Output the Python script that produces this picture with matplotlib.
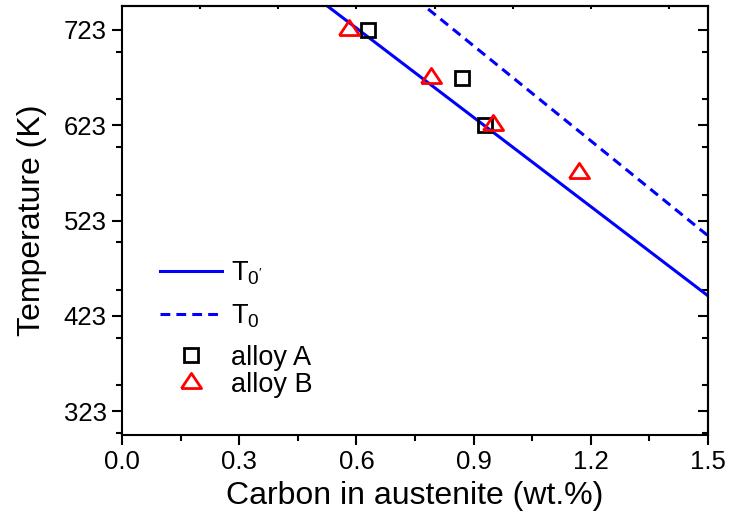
import numpy as np
import matplotlib
matplotlib.use('Agg')
import matplotlib.pyplot as plt
from matplotlib.ticker import MultipleLocator

plt.rcParams['font.family'] = ['Liberation Sans', 'DejaVu Sans']
plt.rcParams['mathtext.default'] = 'regular'

# T0' and T0 lines (carbon wt.%, temperature K)
t0p_c = [0.5, 1.5]
t0p_t = [756, 444]
t0_c = [0.75, 1.5]
t0_t = [756, 507]

# measured points
alloyA_c = [0.63, 0.87, 0.93]
alloyA_t = [723, 673, 623]
alloyB_c = [0.58, 0.79, 0.95, 1.17]
alloyB_t = [723, 673, 623, 573]

xticks = [0.0, 0.3, 0.6, 0.9, 1.2, 1.5]
yticks = [323, 423, 523, 623, 723]

fig = plt.figure(figsize=(7.32, 5.32), dpi=100)
ax = fig.add_axes([122/732, 97/532, 586/732, 429/532])

l1, = ax.plot(t0p_c, t0p_t, color='#0000ff', lw=2.2, label="T$_{0'}$")
l2, = ax.plot(t0_c, t0_t, color='#0000ff', lw=2.2, ls=(0, (3.2, 2.0)), label='T$_0$')

tri = [(-1, -0.5), (1, -0.5), (0, 1), (-1, -0.5)]
m1, = ax.plot(alloyA_c, alloyA_t, ls='none', marker='s', ms=10, mfc='none',
              mec='black', mew=2, label='alloy A')
m2, = ax.plot(alloyB_c, alloyB_t, ls='none', marker=tri, ms=14.5, mfc='none',
              mec='#ff0000', mew=2, label='alloy B')

ax.set_xlim(0, 1.5)
ax.set_ylim(298, 748)
ax.set_xticks(xticks)
ax.set_xticklabels(['%.1f' % v for v in xticks])
ax.set_yticks(yticks)
ax.xaxis.set_minor_locator(MultipleLocator(0.15))
ax.yaxis.set_minor_locator(MultipleLocator(50))
ax.tick_params(which='major', direction='out', length=7, width=1.5, labelsize=18.5, pad=4)
ax.tick_params(which='minor', direction='out', length=4.5, width=1.5)
for s in ax.spines.values():
    s.set_linewidth(1.5)

# top and right: inward ticks
top = ax.secondary_xaxis('top')
top.set_xticks(np.arange(0.2, 1.5, 0.2))
top.tick_params(direction='in', length=2.5, width=1.5, labeltop=False)
top.spines['top'].set_linewidth(1.5)

right = ax.secondary_yaxis('right')
right.set_yticks(yticks)
right.yaxis.set_minor_locator(MultipleLocator(50))
right.tick_params(which='major', direction='in', length=7, width=1.5, labelright=False)
right.tick_params(which='minor', direction='in', length=4.5, width=1.5)
right.spines['right'].set_linewidth(1.5)

ax.set_xlabel('Carbon in austenite (wt.%)', fontsize=23, labelpad=5)
ax.set_ylabel('Temperature (K)', fontsize=23, labelpad=12)

leg1 = ax.legend(handles=[l1, l2], loc='upper left', bbox_to_anchor=(0.065, 0.41),
                 frameon=False, fontsize=19.5, handlelength=2.3, handletextpad=0.3,
                 borderpad=0, borderaxespad=0, labelspacing=0.6)
ax.add_artist(leg1)
ax.legend(handles=[m1, m2], loc='upper left', bbox_to_anchor=(0.065, 0.21),
          frameon=False, fontsize=19.5, handlelength=2.3, handletextpad=0.3,
          borderpad=0, borderaxespad=0, labelspacing=0.05)

fig.savefig('out.png', dpi=100)
